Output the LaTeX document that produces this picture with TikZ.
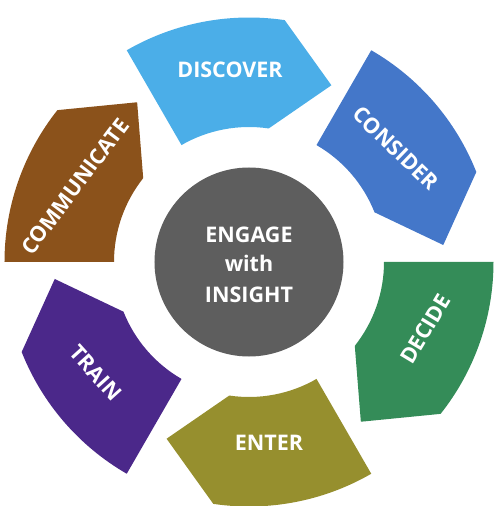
\documentclass[tikz,border=0pt]{standalone}
\usepackage{fontspec}
\setmainfont{Open Sans}
\definecolor{cDiscover}{RGB}{75,174,232}
\definecolor{cConsider}{RGB}{68,119,201}
\definecolor{cDecide}{RGB}{52,140,88}
\definecolor{cEnter}{RGB}{150,143,46}
\definecolor{cTrain}{RGB}{75,40,138}
\definecolor{cCommunicate}{RGB}{139,82,27}
\definecolor{cCenter}{RGB}{94,94,94}
\tikzset{
  lbl/.style={text=white, font=\fontsize{21.5}{25}\selectfont\bfseries, inner sep=0pt},
}
\begin{document}
\begin{tikzpicture}[x=1pt,y=1pt]
\useasboundingbox (-249,-244) rectangle (249,262);
\def\rin{135}\def\rout{244.5}\def\rtip{195}
\foreach \s/\c in {120/cDiscover,60/cConsider,0/cDecide,-60/cEnter,-120/cTrain,180/cCommunicate}{
  \pgfmathsetmacro{\e}{\s-38.4}
  \pgfmathsetmacro{\t}{\s-55}
  \fill[\c] (\s:\rin) -- (\s:\rout) arc[start angle=\s, end angle=\e, radius=\rout]
    -- (\t:\rtip) -- (\e:\rin) arc[start angle=\e, end angle=\s, radius=\rin] -- cycle;
}
\node[circle, fill=cCenter, minimum size=189pt, inner sep=0pt] (hub) at (0,0) {};
\node[lbl, anchor=base] (l1) at (0,19.7) {ENGAGE};
\node[lbl, anchor=base] (l2) at (0,-10) {with};
\node[lbl, anchor=base] (l3) at (0,-40) {INSIGHT};
\node[lbl] (discover) at (-19,192) {DISCOVER};
\node[lbl, rotate=-44] (consider) at (146.7,113.7) {CONSIDER};
\node[lbl, rotate=59] (decide) at (176.7,-67) {DECIDE};
\node[lbl] (enter) at (20,-181.3) {ENTER};
\node[lbl, rotate=-48] (train) at (-153,-110.7) {TRAIN};
\node[lbl, rotate=53] (communicate) at (-174,75.3) {COMMUNICATE};
\end{tikzpicture}
\end{document}
